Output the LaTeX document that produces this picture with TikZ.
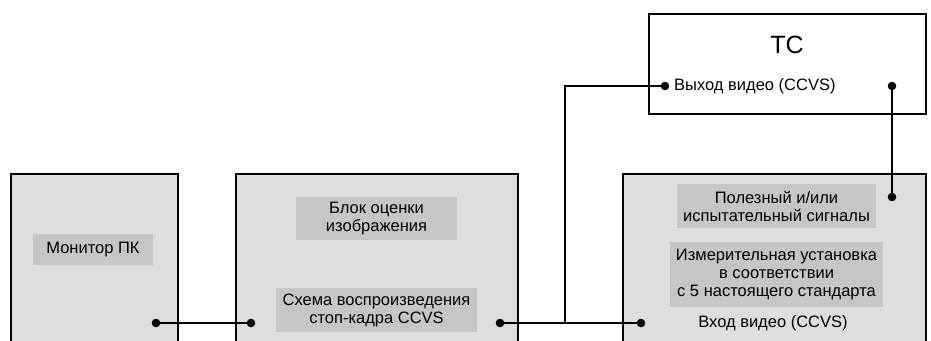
\documentclass[tikz,border=0pt]{standalone}
\usepackage{fontspec}
\setmainfont{Liberation Sans}
\definecolor{boxgray}{HTML}{DEDEDE}
\definecolor{labelgray}{HTML}{C6C6C6}
\tikzset{
  block/.style={draw, line width=2.2pt, fill=boxgray, anchor=north west, inner sep=0pt},
  label/.style={fill=labelgray, align=center, inner sep=0pt, font=\fontsize{16.5}{18}\selectfont},
  plain/.style={align=center, inner sep=0pt, font=\fontsize{16.5}{18}\selectfont},
  wire/.style={line width=2.2pt},
}
\begin{document}
\begin{tikzpicture}[x=1pt,y=-1pt]
\useasboundingbox (0,0) rectangle (931,340);
\clip (0,0) rectangle (931,340);
% outer blocks
\node[block, minimum width=167pt, minimum height=200pt] (monitor) at (10,173) {};
\node[block, minimum width=282pt, minimum height=200pt] (player) at (235,173) {};
\node[block, minimum width=303pt, minimum height=200pt] (setup) at (622,173) {};
\node[block, fill=white, minimum width=277pt, minimum height=100pt] (tc) at (648,13) {};
% labels
\node[label, minimum width=120pt, minimum height=31pt] (monlabel) at (93,249.5) {Монитор ПК};
\node[label, minimum width=161pt, minimum height=43pt] (evallabel) at (376.5,218.5) {Блок оценки\\изображения};
\node[label, minimum width=201pt, minimum height=44pt] (stoplabel) at (376.5,310) {Схема воспроизведения\\стоп-кадра CCVS};
\node[label, minimum width=199pt, minimum height=44pt] (siglabel) at (776.5,206) {Полезный и/или\\испытательный сигналы};
\node[label, minimum width=213pt, minimum height=65pt] (measlabel) at (776.5,274.5) {Измерительная установка\\в соответствии\\с 5 настоящего стандарта};
\node[plain] (inlabel) at (773,323) {Вход видео (CCVS)};
\node[plain, font=\fontsize{25}{27}\selectfont] (tclabel) at (787,45) {ТС};
\node[plain, anchor=west] (outlabel) at (674,86) {Выход видео (CCVS)};
% terminals
\path
(156,323) coordinate (monout)
(251,323) coordinate (stopin)
(500,323) coordinate (stopout)
(641,323) coordinate (setupin)
(892,197) coordinate (sigin)
(665,86) coordinate (tcout)
(892,86) coordinate (tcin)
(565,323) coordinate (branch)
;
\draw[wire] (monout)--(stopin) (stopout)--(setupin) (tcout)-|(branch) (tcin)--(sigin);
\foreach \p in {monout,stopin,stopout,setupin,sigin,tcout,tcin}
\fill[black] (\p) circle(4.3pt);
\end{tikzpicture}
\end{document}
